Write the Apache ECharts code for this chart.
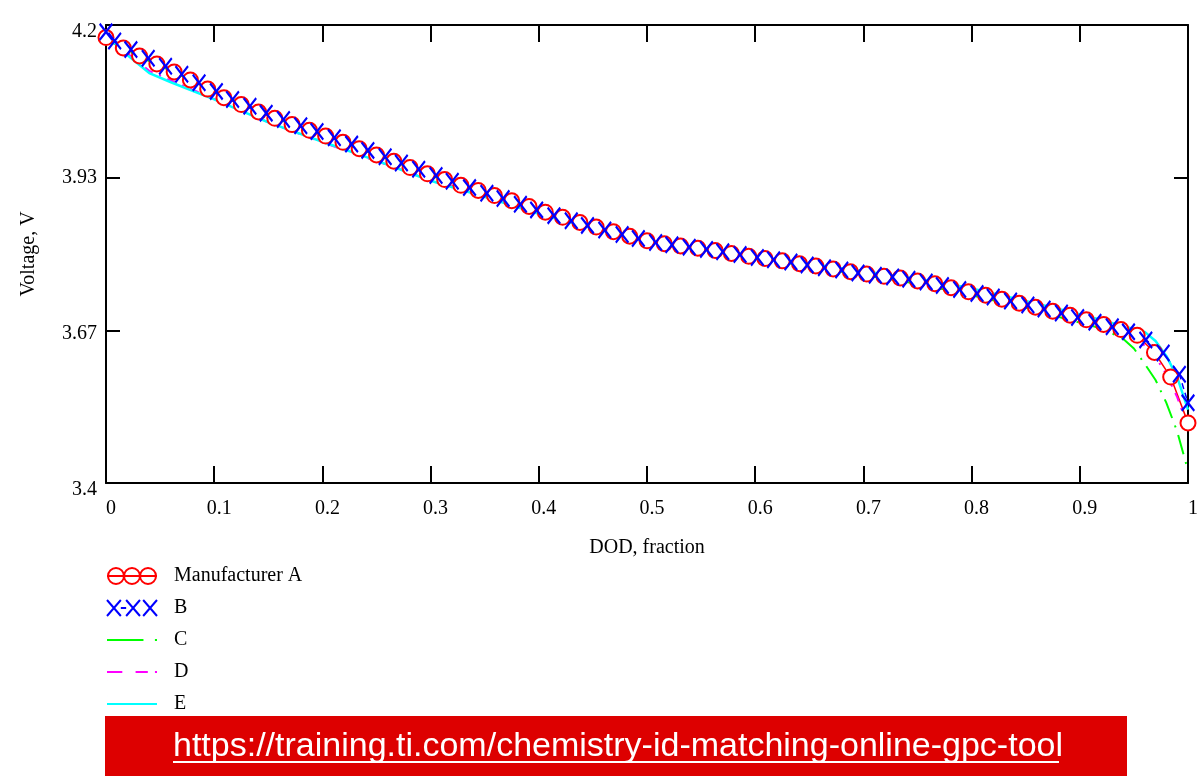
<!DOCTYPE html>
<html>
<head>
<meta charset="utf-8">
<script src="https://cdn.jsdelivr.net/npm/echarts@6/dist/echarts.min.js"></script>
<style>
  html, body { margin: 0; padding: 0; background: #fff; }
  #main { width: 1201px; height: 776px; }
</style>
</head>
<body>
<div id="main"></div>
<script>
// DOD grid of the marker series A
var dodA = [0, 0.016, 0.031, 0.047, 0.063, 0.078, 0.094, 0.109, 0.125, 0.141, 0.156, 0.172, 0.188,
  0.203, 0.219, 0.234, 0.25, 0.266, 0.281, 0.297, 0.313, 0.328, 0.344, 0.359, 0.375, 0.391, 0.406,
  0.422, 0.438, 0.453, 0.469, 0.484, 0.5, 0.516, 0.531, 0.547, 0.563, 0.578, 0.594, 0.609, 0.625,
  0.641, 0.656, 0.672, 0.688, 0.703, 0.719, 0.734, 0.75, 0.766, 0.781, 0.797, 0.813, 0.828, 0.844,
  0.859, 0.875, 0.891, 0.906, 0.922, 0.938, 0.953, 0.969, 0.984, 1];
var voltA = [4.178, 4.160, 4.146, 4.132, 4.118, 4.104, 4.088, 4.073, 4.061, 4.048, 4.037, 4.026, 4.016,
  4.006, 3.995, 3.984, 3.973, 3.962, 3.951, 3.940, 3.930, 3.920, 3.911, 3.902, 3.893, 3.883, 3.873,
  3.864, 3.855, 3.847, 3.839, 3.831, 3.823, 3.818, 3.814, 3.810, 3.806, 3.801, 3.796, 3.792, 3.788,
  3.783, 3.779, 3.774, 3.769, 3.765, 3.761, 3.758, 3.753, 3.748, 3.741, 3.734, 3.728, 3.721, 3.714,
  3.707, 3.700, 3.693, 3.685, 3.677, 3.668, 3.658, 3.628, 3.585, 3.505];

// DOD grid of the marker series B (sits between the A markers)
var dodB = [0, 0.008, 0.023, 0.039, 0.055, 0.070, 0.086, 0.102, 0.117, 0.133, 0.148, 0.164, 0.180,
  0.195, 0.211, 0.227, 0.242, 0.258, 0.273, 0.289, 0.305, 0.320, 0.336, 0.352, 0.367, 0.383, 0.398,
  0.414, 0.430, 0.445, 0.461, 0.477, 0.492, 0.508, 0.523, 0.539, 0.555, 0.570, 0.586, 0.602, 0.617,
  0.633, 0.648, 0.664, 0.680, 0.695, 0.711, 0.727, 0.742, 0.758, 0.773, 0.789, 0.805, 0.820, 0.836,
  0.852, 0.867, 0.883, 0.898, 0.914, 0.930, 0.945, 0.961, 0.977, 0.992, 1];
var voltB = [4.188, 4.172, 4.157, 4.142, 4.128, 4.114, 4.099, 4.084, 4.070, 4.058, 4.046, 4.035, 4.024,
  4.014, 4.003, 3.992, 3.981, 3.970, 3.959, 3.948, 3.937, 3.927, 3.916, 3.906, 3.897, 3.887, 3.877,
  3.867, 3.858, 3.850, 3.842, 3.834, 3.827, 3.820, 3.816, 3.812, 3.808, 3.804, 3.799, 3.794, 3.790,
  3.786, 3.781, 3.776, 3.772, 3.767, 3.763, 3.760, 3.756, 3.751, 3.745, 3.738, 3.731, 3.725, 3.718,
  3.711, 3.704, 3.697, 3.689, 3.681, 3.673, 3.664, 3.650, 3.627, 3.590, 3.540];

// plain line series C, D, E share one DOD grid
var dodLine = [0, 0.02, 0.04, 0.06, 0.08, 0.1, 0.15, 0.2, 0.25, 0.3, 0.35, 0.4, 0.45, 0.5, 0.55, 0.6,
  0.65, 0.7, 0.75, 0.8, 0.85, 0.9, 0.92, 0.94, 0.95, 0.96, 0.97, 0.98, 0.99, 1];
var voltC = [4.175, 4.155, 4.137, 4.120, 4.102, 4.085, 4.042, 4.008, 3.973, 3.937, 3.907, 3.875, 3.846,
  3.824, 3.808, 3.793, 3.778, 3.763, 3.748, 3.728, 3.706, 3.680, 3.670, 3.652, 3.635, 3.608, 3.580,
  3.540, 3.490, 3.422];
var voltD = [4.180, 4.150, 4.120, 4.103, 4.087, 4.071, 4.030, 3.995, 3.962, 3.930, 3.902, 3.872, 3.846,
  3.823, 3.808, 3.794, 3.780, 3.766, 3.751, 3.733, 3.712, 3.686, 3.676, 3.664, 3.655, 3.640, 3.620,
  3.590, 3.550, 3.498];
var voltE = [4.183, 4.147, 4.116, 4.100, 4.085, 4.070, 4.030, 3.996, 3.963, 3.928, 3.900, 3.870, 3.845,
  3.822, 3.808, 3.795, 3.783, 3.770, 3.757, 3.740, 3.718, 3.695, 3.685, 3.674, 3.669, 3.664, 3.648,
  3.622, 3.585, 3.528];

var seriesNames = ['Manufacturer A', 'B', 'C', 'D', 'E'];
var voltTicks = [3.4, 3.6667, 3.9333, 4.2];
var linkText = 'https://training.ti.com/chemistry-id-matching-online-gpc-tool';

function pairs(xs, ys) {
  return xs.map(function (x, i) { return [x, ys[i]]; });
}

var serif = 'Liberation Serif';
var crossPath = 'path://M0,1L1,0L5,4L9,0L10,1L6,5L10,9L9,10L5,6L1,10L0,9L4,5Z';

// legend samples drawn like the original: rings, crosses, dash patterns
var ring = 'a8,8 0 1,0 16,0a8,8 0 1,0 -16,0';
var legendIcons = [
  'path://M0,8L50,8M1,8' + ring + 'M17,8' + ring + 'M33,8' + ring,
  'path://M1,1L14,15M1,15L14,1M14,8L19,8M19,1L32,15M19,15L32,1M35,1L48,15M35,15L48,1',
  'path://M0,0L0.01,0M0,8L35,8M46,8L48,8M0,16L0.01,16',
  'path://M0,0L0.01,0M0,8L15,8M28,8L40,8M47,8L49,8M0,16L0.01,16',
  'path://M0,0L0.01,0M0,8L50,8M0,16L0.01,16'
];
var legendColors = ['#ff0000', '#0000ff', '#00ff00', '#ff00ff', '#00ffff'];

function tickLabel(v) {
  var s = String(parseFloat(v.toFixed(2)));
  if (v < 3.5 || v > 4.1) return '{end|' + s + '}';
  if (v < 3.8) return '{mid|' + s + '}';
  return s;
}

var myChart = echarts.init(document.getElementById('main'), null, { renderer: 'canvas' });
myChart.setOption({
  animation: false,
  backgroundColor: '#ffffff',
  grid: { left: 106, right: 11, top: 25, bottom: 293, containLabel: false },
  legend: {
    orient: 'vertical',
    left: 101,
    top: 561,
    itemWidth: 50,
    itemHeight: 16,
    itemGap: 12,
    symbolKeepAspect: false,
    data: seriesNames.map(function (n, i) {
      return {
        name: n,
        icon: legendIcons[i],
        itemStyle: { color: 'transparent', borderColor: legendColors[i], borderWidth: 2 }
      };
    }),
    textStyle: { fontFamily: serif, fontSize: 20, color: '#000', lineHeight: 20, padding: [0, 0, 0, 12] }
  },
  xAxis: [{
    type: 'value', min: 0, max: 1, interval: 0.1,
    name: 'DOD, fraction', nameLocation: 'middle', nameGap: 55,
    nameTextStyle: { fontFamily: serif, fontSize: 20, color: '#000' },
    axisLine: { onZero: false, lineStyle: { color: '#000', width: 2 } },
    axisTick: { inside: true, length: 17, lineStyle: { color: '#000', width: 2 } },
    axisLabel: { fontFamily: serif, fontSize: 20, color: '#000', margin: 16, padding: [0, 0, 0, 10] },
    splitLine: { show: false }
  }, {
    type: 'value', min: 0, max: 1, interval: 0.1, position: 'top',
    axisLine: { onZero: false, lineStyle: { color: '#000', width: 2 } },
    axisTick: { inside: true, length: 17, lineStyle: { color: '#000', width: 2 } },
    axisLabel: { show: false },
    splitLine: { show: false }
  }],
  yAxis: [{
    type: 'value', min: 3.4, max: 4.2, position: 'left',
    name: 'Voltage, V', nameLocation: 'middle', nameGap: 67,
    nameTextStyle: { fontFamily: serif, fontSize: 20, color: '#000' },
    axisLine: { onZero: false, lineStyle: { color: '#000', width: 2 } },
    axisTick: { inside: true, length: 14, customValues: voltTicks, lineStyle: { color: '#000', width: 2 } },
    axisLabel: {
      fontFamily: serif, fontSize: 20, color: '#000', margin: 9, customValues: voltTicks,
      formatter: tickLabel,
      rich: {
        end: { fontFamily: serif, fontSize: 20, color: '#000', padding: [14, 0, 0, 0] },
        mid: { fontFamily: serif, fontSize: 20, color: '#000', padding: [6, 0, 0, 0] }
      }
    },
    splitLine: { show: false }
  }, {
    type: 'value', min: 3.4, max: 4.2, position: 'right',
    axisLine: { onZero: false, lineStyle: { color: '#000', width: 2 } },
    axisTick: { inside: true, length: 14, customValues: voltTicks, lineStyle: { color: '#000', width: 2 } },
    axisLabel: { show: false, customValues: voltTicks },
    splitLine: { show: false }
  }],
  series: [{
    name: seriesNames[0], type: 'line', data: pairs(dodA, voltA),
    symbol: 'emptyCircle', symbolSize: 15, showAllSymbol: true,
    itemStyle: { color: '#ff0000', borderWidth: 1.8 },
    lineStyle: { color: '#ff0000', width: 1.5 }
  }, {
    name: seriesNames[1], type: 'line', data: pairs(dodB, voltB),
    symbol: crossPath, symbolSize: [14, 18], showAllSymbol: true,
    itemStyle: { color: '#0000ff' },
    lineStyle: { color: '#0000ff', width: 1.5, type: [6, 4] }
  }, {
    name: seriesNames[2], type: 'line', data: pairs(dodLine, voltC), showSymbol: false,
    itemStyle: { color: '#00ff00' },
    lineStyle: { color: '#00ff00', width: 2, type: [20, 8, 2, 8] }
  }, {
    name: seriesNames[3], type: 'line', data: pairs(dodLine, voltD), showSymbol: false,
    itemStyle: { color: '#ff00ff' },
    lineStyle: { color: '#ff00ff', width: 2, type: [9, 7, 2, 7] }
  }, {
    name: seriesNames[4], type: 'line', data: pairs(dodLine, voltE), showSymbol: false,
    itemStyle: { color: '#00ffff' },
    lineStyle: { color: '#00ffff', width: 2.5 }
  }],
  graphic: [{
    type: 'rect', left: 105, top: 716, z: 100,
    shape: { width: 1022, height: 60 },
    style: { fill: '#dd0000' }
  }, {
    type: 'text', left: 173, top: 730, z: 101,
    style: { text: linkText, fill: '#ffffff', font: '34px "Liberation Sans"' }
  }, {
    type: 'rect', left: 173, top: 761, z: 101,
    shape: { width: 886, height: 2 },
    style: { fill: '#ffffff' }
  }]
});
</script>
</body>
</html>
